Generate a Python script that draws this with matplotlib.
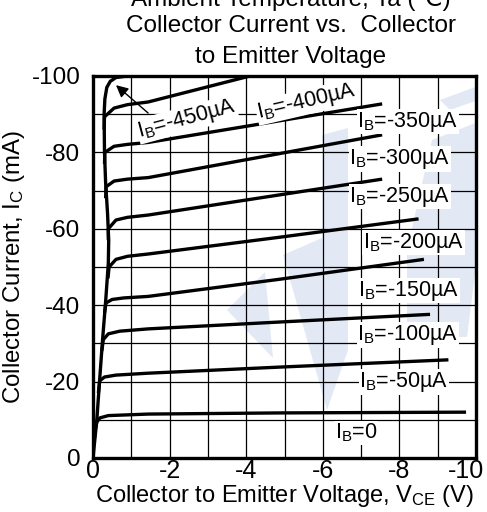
import matplotlib
matplotlib.use('Agg')
import matplotlib.pyplot as plt
from matplotlib.transforms import ScaledTranslation
from matplotlib.patches import Polygon

plt.rcParams['font.family'] = ['Liberation Sans', 'DejaVu Sans']
plt.rcParams['mathtext.default'] = 'regular'

# ---- data (V_CE in V, I_C in mA, magnitudes; plotted as negative) ----
x_ticks = [0, -2, -4, -6, -8, -10]
y_ticks = [0, -20, -40, -60, -80, -100]

v_450 = [0, 0.05, 0.1, 0.17, 0.25, 0.33, 0.40, 0.41, 0.38, 0.33, 0.30, 0.29, 0.31, 0.36, 0.45, 0.6, 0.9]
i_450 = [0, 5, 10, 20, 31, 41, 51, 57, 64, 72, 80, 90, 94, 97, 98.6, 99.6, 100]

v_400 = [0.29, 0.30, 0.55, 0.9, 1.44, 4.1]
i_400 = [86, 89.3, 91.6, 92.5, 93.2, 100]

v_350 = [0.30, 0.31, 0.55, 0.9, 1.44, 7.55]
i_350 = [77, 80, 81.6, 82.1, 82.6, 92.7]

v_300 = [0.33, 0.34, 0.55, 0.9, 1.44, 7.55]
i_300 = [68, 71, 72.5, 73.0, 73.4, 84.6]

v_250 = [0.40, 0.40, 0.6, 0.9, 1.44, 7.55]
i_250 = [57, 60, 62.3, 63.0, 63.6, 73.0]

v_200 = [0.39, 0.42, 0.6, 0.9, 1.44, 4.88, 8.5]
i_200 = [47, 50, 52, 52.8, 53.4, 57.8, 62.6]

v_150 = [0.30, 0.34, 0.5, 0.8, 1.44, 4.88, 8.64]
i_150 = [38, 40.6, 41.5, 41.9, 42.3, 46.8, 52.0]

v_100 = [0.23, 0.27, 0.4, 0.7, 1.44, 4.88, 8.8]
i_100 = [28, 31, 32.5, 33.2, 33.8, 35.6, 37.6]

v_50 = [0.14, 0.175, 0.3, 0.6, 1.44, 4.88, 9.28]
i_50 = [17, 20.2, 21.2, 21.7, 22.2, 23.8, 25.7]

v_0 = [0.03, 0.06, 0.1, 0.18, 0.4, 1.44, 4.88, 9.74]
i_0 = [4.7, 7.5, 9.4, 10.5, 11.1, 11.5, 11.8, 12.0]

curves = [(v_450, i_450), (v_400, i_400), (v_350, i_350), (v_300, i_300),
          (v_250, i_250), (v_200, i_200), (v_150, i_150), (v_100, i_100),
          (v_50, i_50), (v_0, i_0)]

labels = ['0', '-50µA', '-100µA', '-150µA', '-200µA', '-250µA',
          '-300µA', '-350µA']
label_v = [6.32, 6.95, 6.9, 6.92, 7.05, 6.69, 6.69, 6.9]
label_i = [6.5, 19.9, 32.2, 43.8, 56.4, 68.4, 78.3, 88.0]

# ---- figure ----
W, H = 487, 512
fig = plt.figure(figsize=(W / 100, H / 100), dpi=100)
ax = fig.add_axes([93 / W, 1 - 458 / H, (476 - 93) / W, (458 - 76) / H])

# faint background watermark (decoration, in axes-fraction coordinates)
def px(x, y):
    return ((x - 93) / 383, (458 - y) / 382)

wm_color = '#e2e8f4'
for shape in ([(322, 135), (348, 128), (348, 350), (327, 410), (283, 255), (322, 238)],
              [(432, 140), (478, 122), (478, 250), (467, 337), (407, 337), (407, 250)],
              [(227, 310), (265, 272), (273, 358)],
              [(440, 100), (478, 86), (478, 100), (450, 110)]):
    ax.add_patch(Polygon([px(*p) for p in shape], closed=True, transform=ax.transAxes,
                         facecolor=wm_color, edgecolor='none', zorder=0.5))

for v, i in curves:
    ax.plot([-a for a in v], [-b for b in i], color='black', lw=2.4,
            solid_joinstyle='round', solid_capstyle='butt', zorder=4, clip_on=True)

ax.set_xlim(0, -10)
ax.set_ylim(0, -100)
ax.set_xticks(x_ticks)
ax.set_xticklabels([str(t) for t in x_ticks])
ax.set_yticks(y_ticks)
ax.set_yticklabels([str(t) for t in y_ticks])
ax.set_xticks([-k for k in range(11)], minor=True)
ax.set_yticks([-10 * k for k in range(11)], minor=True)
ax.grid(True, which='both', color='black', lw=0.9, zorder=1)
ax.set_axisbelow(True)
ax.tick_params(which='both', length=0)
ax.tick_params(axis='x', labelsize=18, pad=1)
ax.tick_params(axis='y', labelsize=17.5, pad=9)
last = ax.get_xticklabels()[-1]
last.set_transform(last.get_transform() + ScaledTranslation(-10 / 100, 0, fig.dpi_scale_trans))
for s in ax.spines.values():
    s.set_linewidth(2.4)
    s.set_zorder(6)

ax.set_xlabel('Collector to Emitter Voltage, V$_{CE}$ (V)', fontsize=17, labelpad=0)
ax.set_ylabel('Collector Current, I$_{C}$ (mA)', fontsize=17.3, labelpad=3)

box = dict(facecolor='white', edgecolor='none', pad=0.5)
for t, v, i in zip(labels, label_v, label_i):
    ax.text(-v, -i, 'I$_{B}$=' + t, fontsize=15.5, ha='left', va='center',
            bbox=box, zorder=5)

ax.text(-5.57, -93.2, 'I$_{B}$=-400µA', fontsize=15.5, ha='center', va='center',
        rotation=13, bbox=box, zorder=5)
ax.text(-2.45, -88.7, 'I$_{B}$=-450µA', fontsize=15.5, ha='center', va='center',
        rotation=15, bbox=box, zorder=5)
ax.annotate('', xy=(-0.6, -97.6), xytext=(-1.44, -90.3),
            arrowprops=dict(arrowstyle='-|>', color='black', lw=1.0,
                            mutation_scale=18, shrinkA=0, shrinkB=0), zorder=7)

cx = 291 / W
fig.text(cx, 1 - 6 / H, 'Ambient Temperature, Ta (℃)', fontsize=17.5,
         ha='center', va='baseline')
fig.text(cx, 1 - 32 / H, 'Collector Current vs.  Collector', fontsize=17.5,
         ha='center', va='baseline')
fig.text(cx, 1 - 63 / H, 'to Emitter Voltage', fontsize=17.5,
         ha='center', va='baseline')

fig.savefig('out.png', dpi=100)
